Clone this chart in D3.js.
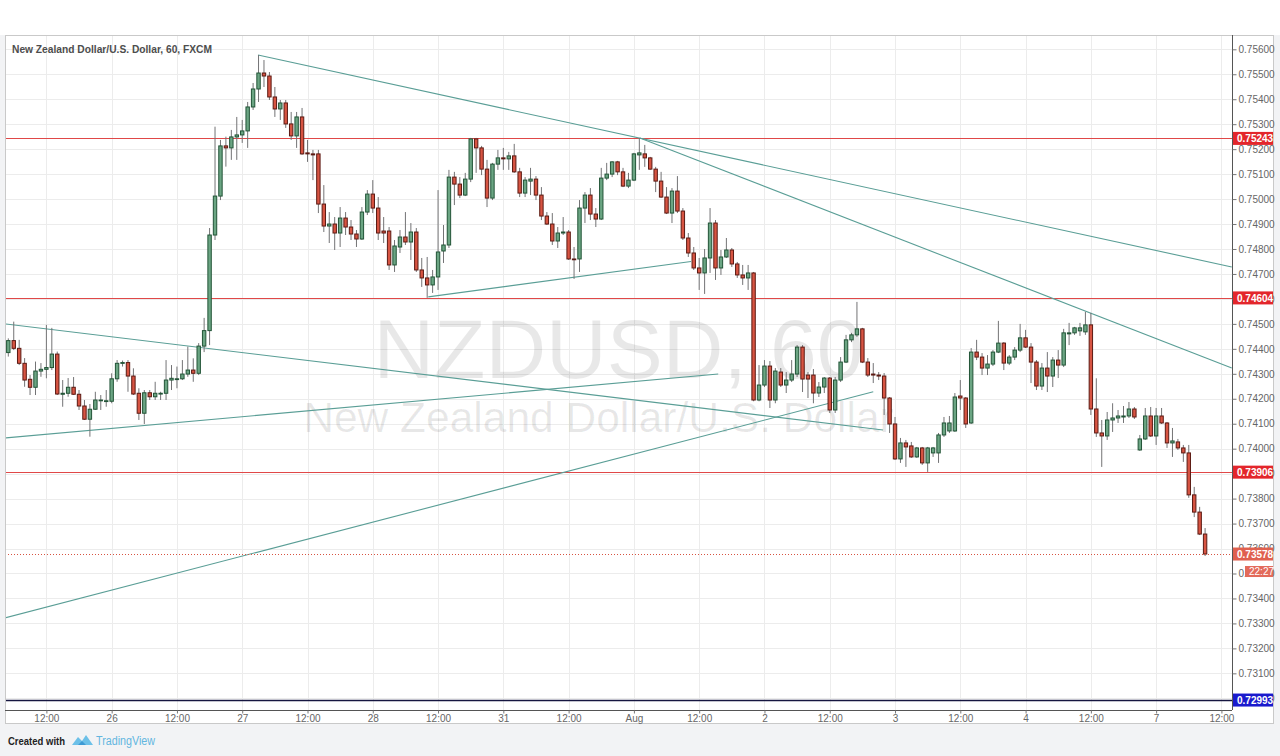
<!DOCTYPE html>
<html><head><meta charset="utf-8">
<script src="https://cdn.jsdelivr.net/npm/d3@7"></script>
<style>
html,body{margin:0;padding:0;background:#ffffff;}
svg{display:block;font-family:"Liberation Sans",Arial,sans-serif;}
</style></head><body>
<svg id="chart" width="1280" height="756"></svg>
<script>
// ---------------- DATA (NZD/USD, 1h bars, FXCM) ----------------
const open = [0.74385,0.74433,0.74402,0.74342,0.74278,0.74246,0.74311,0.74318,0.74325,0.74379,0.74218,0.74222,0.74246,0.74218,0.74171,0.74118,0.74158,0.74192,0.74190,0.74190,
0.74280,0.74342,0.74345,0.74291,0.74222,0.74142,0.74224,0.74208,0.74219,0.74222,0.74275,0.74278,0.74280,0.74299,0.74315,0.74302,0.74411,0.74473,0.74856,0.75012,
0.75213,0.75205,0.75249,0.75257,0.75273,0.75369,0.75441,0.75505,0.75493,0.75409,0.75361,0.75385,0.75301,0.75253,0.75329,0.75185,0.75181,0.75181,0.74980,0.74892,
0.74900,0.74864,0.74924,0.74888,0.74860,0.74840,0.74948,0.75020,0.74964,0.74872,0.74872,0.74736,0.74808,0.74848,0.74828,0.74868,0.74716,0.74684,0.74656,0.74688,
0.74792,0.74816,0.75088,0.75060,0.75016,0.75080,0.75241,0.75205,0.75120,0.75004,0.75140,0.75165,0.75161,0.75173,0.75109,0.75024,0.75072,0.75080,0.75016,0.74932,
0.74900,0.74832,0.74864,0.74868,0.74760,0.74760,0.74964,0.75016,0.74940,0.74920,0.75084,0.75100,0.75149,0.75109,0.75052,0.75076,0.75177,0.75181,0.75165,0.75120,
0.75072,0.75008,0.74944,0.75032,0.74952,0.74844,0.74784,0.74724,0.74704,0.74764,0.74904,0.74724,0.74768,0.74796,0.74740,0.74696,0.74684,0.74704,0.74195,0.74255,
0.74331,0.74195,0.74307,0.74255,0.74275,0.74299,0.74407,0.74295,0.74295,0.74223,0.74247,0.74283,0.74155,0.74275,0.74347,0.74436,0.74456,0.74480,0.74347,0.74299,
0.74295,0.74291,0.74203,0.74099,0.73959,0.74023,0.74011,0.73967,0.74003,0.73943,0.73983,0.73983,0.74055,0.74071,0.74071,0.74211,0.74203,0.74103,0.74387,0.74367,
0.74323,0.74339,0.74387,0.74423,0.74343,0.74367,0.74395,0.74444,0.74407,0.74347,0.74251,0.74323,0.74291,0.74355,0.74335,0.74460,0.74464,0.74472,0.74468,0.74496,
0.74159,0.74063,0.74051,0.74115,0.74123,0.74127,0.74131,0.74159,0.73995,0.74039,0.74131,0.74051,0.74131,0.74103,0.74023,0.74027,0.74003,0.73983,0.73815,0.73746,
0.73658];
const high = [0.74442,0.74509,0.74436,0.74363,0.74295,0.74349,0.74343,0.74496,0.74484,0.74389,0.74275,0.74283,0.74287,0.74235,0.74195,0.74179,0.74228,0.74215,0.74235,0.74302,
0.74355,0.74353,0.74355,0.74322,0.74242,0.74235,0.74235,0.74268,0.74228,0.74355,0.74335,0.74329,0.74355,0.74409,0.74362,0.74423,0.74524,0.74884,0.75290,0.75237,
0.75250,0.75277,0.75329,0.75317,0.75389,0.75465,0.75577,0.75557,0.75509,0.75449,0.75397,0.75397,0.75349,0.75349,0.75365,0.75237,0.75197,0.75197,0.75056,0.74948,
0.74928,0.74968,0.74948,0.74916,0.74876,0.74968,0.75036,0.75076,0.75008,0.74928,0.74888,0.74836,0.74876,0.74948,0.74904,0.74884,0.74764,0.74768,0.74716,0.75036,
0.74896,0.75117,0.75109,0.75088,0.75105,0.75245,0.75245,0.75213,0.75157,0.75145,0.75197,0.75205,0.75189,0.75221,0.75125,0.75088,0.75125,0.75092,0.75048,0.74948,
0.74944,0.74888,0.74928,0.74876,0.74808,0.74996,0.75028,0.75044,0.74964,0.75125,0.75145,0.75152,0.75153,0.75125,0.75105,0.75185,0.75245,0.75217,0.75169,0.75129,
0.75109,0.75048,0.75044,0.75092,0.74964,0.74864,0.74808,0.74764,0.74800,0.74964,0.74916,0.74796,0.74844,0.74804,0.74748,0.74736,0.74736,0.74708,0.74335,0.74355,
0.74351,0.74323,0.74323,0.74307,0.74355,0.74415,0.74415,0.74307,0.74319,0.74267,0.74287,0.74287,0.74287,0.74367,0.74456,0.74464,0.74588,0.74484,0.74363,0.74343,
0.74307,0.74303,0.74207,0.74127,0.74043,0.74035,0.74027,0.74007,0.74007,0.74007,0.74007,0.74063,0.74127,0.74131,0.74223,0.74275,0.74207,0.74403,0.74436,0.74383,
0.74375,0.74395,0.74512,0.74427,0.74375,0.74407,0.74500,0.74476,0.74423,0.74355,0.74343,0.74387,0.74367,0.74395,0.74480,0.74504,0.74488,0.74504,0.74548,0.74544,
0.74282,0.74115,0.74147,0.74182,0.74155,0.74171,0.74187,0.74167,0.74055,0.74163,0.74167,0.74163,0.74163,0.74107,0.74083,0.74039,0.74015,0.74015,0.73847,0.73767,
0.73682];
const low = [0.74369,0.74395,0.74335,0.74248,0.74215,0.74215,0.74288,0.74282,0.74315,0.74215,0.74168,0.74208,0.74215,0.74155,0.74115,0.74048,0.74155,0.74155,0.74168,0.74182,
0.74268,0.74329,0.74228,0.74215,0.74115,0.74099,0.74195,0.74195,0.74195,0.74195,0.74235,0.74242,0.74275,0.74288,0.74268,0.74295,0.74387,0.74415,0.74836,0.74996,
0.75130,0.75157,0.75157,0.75225,0.75205,0.75357,0.75389,0.75449,0.75397,0.75329,0.75317,0.75285,0.75237,0.75205,0.75177,0.75149,0.75076,0.74944,0.74868,0.74824,
0.74796,0.74808,0.74856,0.74836,0.74808,0.74836,0.74936,0.74944,0.74836,0.74824,0.74716,0.74708,0.74784,0.74816,0.74756,0.74708,0.74648,0.74604,0.74624,0.74636,
0.74744,0.74804,0.74976,0.75004,0.75012,0.75068,0.75105,0.75096,0.74968,0.74996,0.75117,0.75117,0.75117,0.75105,0.75008,0.75008,0.75016,0.74996,0.74916,0.74896,
0.74816,0.74804,0.74856,0.74756,0.74680,0.74708,0.74904,0.74916,0.74888,0.74916,0.75076,0.75088,0.75096,0.75048,0.75044,0.75072,0.75117,0.75129,0.75117,0.75028,
0.75004,0.74940,0.74904,0.74944,0.74836,0.74768,0.74716,0.74636,0.74620,0.74704,0.74676,0.74696,0.74764,0.74728,0.74684,0.74656,0.74636,0.74190,0.74190,0.74247,
0.74163,0.74182,0.74247,0.74223,0.74267,0.74287,0.74227,0.74203,0.74182,0.74207,0.74223,0.74143,0.74143,0.74267,0.74343,0.74427,0.74448,0.74343,0.74287,0.74263,
0.74275,0.74135,0.74063,0.73955,0.73943,0.73927,0.73963,0.73963,0.73935,0.73907,0.73967,0.73943,0.74047,0.74063,0.74067,0.74155,0.74083,0.74099,0.74355,0.74295,
0.74295,0.74331,0.74383,0.74315,0.74335,0.74355,0.74387,0.74403,0.74263,0.74235,0.74235,0.74227,0.74247,0.74283,0.74327,0.74415,0.74456,0.74452,0.74456,0.74135,
0.74047,0.73927,0.74035,0.74067,0.74103,0.74103,0.74123,0.74119,0.73991,0.74035,0.74047,0.74015,0.74099,0.74003,0.73967,0.73995,0.73947,0.73803,0.73726,0.73654,
0.73570];
const close = [0.74433,0.74402,0.74342,0.74275,0.74246,0.74311,0.74318,0.74325,0.74379,0.74219,0.74222,0.74246,0.74218,0.74171,0.74118,0.74158,0.74195,0.74195,0.74192,0.74280,
0.74342,0.74345,0.74291,0.74219,0.74142,0.74224,0.74208,0.74222,0.74222,0.74275,0.74282,0.74280,0.74299,0.74315,0.74302,0.74411,0.74473,0.74856,0.75012,0.75213,
0.75205,0.75249,0.75257,0.75273,0.75369,0.75441,0.75505,0.75493,0.75409,0.75361,0.75385,0.75301,0.75253,0.75329,0.75181,0.75181,0.75177,0.74980,0.74892,0.74900,
0.74864,0.74924,0.74888,0.74860,0.74840,0.74948,0.75020,0.74964,0.74864,0.74864,0.74736,0.74812,0.74848,0.74828,0.74868,0.74716,0.74684,0.74656,0.74688,0.74788,
0.74816,0.75088,0.75060,0.75016,0.75080,0.75241,0.75205,0.75120,0.75004,0.75140,0.75165,0.75161,0.75173,0.75109,0.75024,0.75076,0.75080,0.75016,0.74932,0.74900,
0.74832,0.74864,0.74868,0.74760,0.74758,0.74964,0.75016,0.74940,0.74920,0.75084,0.75100,0.75149,0.75109,0.75052,0.75076,0.75181,0.75185,0.75165,0.75120,0.75072,
0.75008,0.74944,0.75032,0.74952,0.74844,0.74784,0.74724,0.74704,0.74764,0.74904,0.74724,0.74768,0.74796,0.74740,0.74696,0.74684,0.74704,0.74195,0.74255,0.74331,
0.74195,0.74311,0.74255,0.74275,0.74299,0.74407,0.74279,0.74279,0.74223,0.74247,0.74283,0.74155,0.74275,0.74347,0.74436,0.74456,0.74480,0.74347,0.74295,0.74295,
0.74291,0.74203,0.74099,0.73959,0.74023,0.74007,0.73967,0.74003,0.73943,0.74003,0.74003,0.74055,0.74103,0.74103,0.74207,0.74203,0.74099,0.74387,0.74367,0.74323,
0.74339,0.74387,0.74423,0.74343,0.74367,0.74395,0.74444,0.74407,0.74347,0.74251,0.74323,0.74291,0.74355,0.74335,0.74464,0.74464,0.74484,0.74484,0.74496,0.74159,
0.74063,0.74051,0.74115,0.74123,0.74131,0.74131,0.74159,0.74127,0.74039,0.74131,0.74051,0.74131,0.74103,0.74023,0.74031,0.74003,0.73983,0.73815,0.73746,0.73658,
0.73578];

// time axis: bar index of each label, and its text
const timeTickIndex = [7,19,31,43,55,67,79,91,103,115,127,139,151,163,175,187,199,211,223];
const timeTickLabel = ["12:00","26","12:00","27","12:00","28","12:00","31","12:00","Aug","12:00","2","12:00","3","12:00","4","12:00","7","12:00"];
// price axis ticks
const priceTicks = [0.730,0.731,0.732,0.733,0.734,0.735,0.736,0.737,0.738,0.739,0.740,0.741,0.742,0.743,0.744,0.745,0.746,0.747,0.748,0.749,0.750,0.751,0.752,0.753,0.754,0.755,0.756];

// horizontal levels drawn on the chart
const resistanceLevels = [0.75243, 0.74604, 0.73906];
const supportLevel = 0.72993;
const lastPrice = 0.73578;
const countdown = "22:27";

// trend lines: [[barIndex, price], [barIndex, price]]
const trendLines = [
  [[45.9, 0.75577], [224.9, 0.74728]],
  [[116.1, 0.75245], [224.9, 0.74323]],
  [[-0.6, 0.74500], [160.8, 0.74075]],
  [[-0.6, 0.74043], [130.5, 0.74299]],
  [[-0.6, 0.73322], [159.0, 0.74228]],
  [[77.2, 0.74608], [125.5, 0.74750]]
];

const title = "New Zealand Dollar/U.S. Dollar, 60, FXCM";
const watermark1 = "NZDUSD, 60";
const watermark2 = "New Zealand Dollar/U.S. Dollar";

// ---------------- DRAWING ----------------
const svg = d3.select("#chart");
const P = {l:5, t:35, r:1232, b:710};
const frameR = 1274, frameB = 724;

// page background
svg.append("rect").attr("x",0).attr("y",0).attr("width",1280).attr("height",756).attr("fill","#f2f3f5");
svg.append("rect").attr("x",0).attr("y",0).attr("width",1280).attr("height",P.t).attr("fill","#ffffff");
svg.append("rect").attr("x",P.l+0.5).attr("y",P.t+0.5).attr("width",frameR-P.l-1).attr("height",frameB-P.t-1)
   .attr("fill","#ffffff").attr("stroke","#c9c9c9");

const x = d3.scaleLinear().domain([0,220]).range([8.3, 8.3+220*5.44]);
const y = d3.scaleLinear().domain([0.730,0.756]).range([698.3,49.3]);

svg.append("clipPath").attr("id","plotclip").append("rect")
  .attr("x",P.l+1).attr("y",P.t+1).attr("width",P.r-P.l-1).attr("height",P.b-P.t-1);

const plot = svg.append("g").attr("clip-path","url(#plotclip)");

// grid
plot.append("g").selectAll("line").data(priceTicks).join("line")
  .attr("x1",P.l).attr("x2",P.r).attr("y1",d=>Math.round(y(d))+0.5).attr("y2",d=>Math.round(y(d))+0.5)
  .attr("stroke","#ececec");
plot.append("g").selectAll("line").data(timeTickIndex).join("line")
  .attr("y1",P.t).attr("y2",P.b).attr("x1",d=>Math.round(x(d))+0.5).attr("x2",d=>Math.round(x(d))+0.5)
  .attr("stroke","#ececec");

// watermark
const cxPlot = (P.l+P.r)/2;
plot.append("text").attr("x",cxPlot).attr("y",378).attr("text-anchor","middle")
  .attr("font-size",84).attr("fill","#000").attr("fill-opacity",0.09).text(watermark1);
plot.append("text").attr("x",cxPlot-20).attr("y",432).attr("text-anchor","middle")
  .attr("font-size",42.5).attr("fill","#000").attr("fill-opacity",0.09).text(watermark2);

// horizontal levels
plot.append("g").selectAll("line").data(resistanceLevels).join("line")
  .attr("x1",P.l).attr("x2",P.r).attr("y1",d=>Math.round(y(d))+0.5).attr("y2",d=>Math.round(y(d))+0.5)
  .attr("stroke","#e04848").attr("stroke-width",1);
plot.append("line").attr("x1",P.l).attr("x2",P.r)
  .attr("y1",Math.round(y(supportLevel))+0.5).attr("y2",Math.round(y(supportLevel))+0.5)
  .attr("stroke","#161640").attr("stroke-width",1.4);

// trend lines
plot.append("g").selectAll("line").data(trendLines).join("line")
  .attr("x1",d=>x(d[0][0])).attr("y1",d=>y(d[0][1]))
  .attr("x2",d=>x(d[1][0])).attr("y2",d=>y(d[1][1]))
  .attr("stroke","#5a9e96").attr("stroke-width",1.1);

// candles
const bars = d3.range(open.length).map(i=>({i,o:open[i],h:high[i],l:low[i],c:close[i]}));
const cg = plot.append("g");
cg.selectAll("line.wick").data(bars).join("line").attr("class","wick")
  .attr("x1",d=>x(d.i)).attr("x2",d=>x(d.i))
  .attr("y1",d=>y(d.h)).attr("y2",d=>y(d.l))
  .attr("stroke","#737375").attr("stroke-width",1);
cg.selectAll("rect.body").data(bars).join("rect").attr("class","body")
  .attr("x",d=>x(d.i)-1.7).attr("width",3.4)
  .attr("y",d=>y(Math.max(d.o,d.c)))
  .attr("height",d=>Math.max(0.8, Math.abs(y(d.o)-y(d.c))))
  .attr("fill",d=>d.c>=d.o?"#6ba583":"#d75442")
  .attr("stroke",d=>d.c>=d.o?"#225437":"#5b1a13").attr("stroke-width",1);

// last price dotted line
plot.append("line").attr("x1",P.l).attr("x2",P.r)
  .attr("y1",Math.round(y(lastPrice))+0.5).attr("y2",Math.round(y(lastPrice))+0.5)
  .attr("stroke","#d75442").attr("stroke-dasharray","1,2");

// title
svg.append("text").attr("x",12).attr("y",53).attr("font-size",11).attr("font-weight","bold")
  .attr("fill","#4d4d4d").attr("textLength",200).attr("lengthAdjust","spacingAndGlyphs").text(title);

// axes borders
svg.append("line").attr("x1",P.r+0.5).attr("x2",P.r+0.5).attr("y1",P.t).attr("y2",P.b).attr("stroke","#555");
svg.append("line").attr("x1",P.l).attr("x2",P.r).attr("y1",P.b+0.5).attr("y2",P.b+0.5).attr("stroke","#555");

// price axis
const ya = svg.append("g").attr("transform",`translate(${P.r+0.5},0)`)
  .call(d3.axisRight(y).tickValues(priceTicks).tickSize(4).tickPadding(2).tickFormat(d3.format(".5f")));
ya.select(".domain").remove();
ya.selectAll("line").attr("stroke","#777");
ya.selectAll("text").attr("fill","#666").attr("font-size",10).attr("font-family","Liberation Sans, Arial, sans-serif");

// time axis
const xa = svg.append("g").attr("transform",`translate(0,${P.b+0.5})`)
  .call(d3.axisBottom(x).tickValues(timeTickIndex).tickSize(3).tickPadding(1).tickFormat((d,i)=>timeTickLabel[i]));
xa.select(".domain").remove();
xa.selectAll("line").attr("stroke","#777");
xa.selectAll("text").attr("fill","#666").attr("font-size",10).attr("font-family","Liberation Sans, Arial, sans-serif");

// price labels on the axis
function priceTag(p, color){
  const yy = y(p);
  const g = svg.append("g");
  g.append("rect").attr("x",P.r+1).attr("y",yy-6.5).attr("width",frameR-P.r-2).attr("height",13).attr("fill",color);
  g.append("text").attr("x",P.r+5).attr("y",yy+3.6).attr("font-size",10).attr("font-weight","bold")
    .attr("fill","#fff").text(d3.format(".5f")(p));
}
resistanceLevels.forEach(p=>priceTag(p,"#e3262b"));
priceTag(supportLevel,"#1a1acd");
priceTag(lastPrice,"#e0604f");
svg.append("rect").attr("x",1245).attr("y",y(lastPrice)+12).attr("width",frameR-1246).attr("height",11).attr("fill","#e36a5a");
svg.append("text").attr("x",1249).attr("y",y(lastPrice)+21).attr("font-size",10).attr("fill","#fff").text(countdown);

// footer
svg.append("text").attr("x",8).attr("y",745).attr("font-size",11).attr("font-weight","bold")
  .attr("fill","#222").attr("textLength",57).attr("lengthAdjust","spacingAndGlyphs").text("Created with");
const logo = svg.append("g").attr("transform","translate(72,734)");
logo.append("path").attr("d","M0,11 L6,3 L10,7 L14,1 L21,11 Z").attr("fill","#6cc0e8");
logo.append("path").attr("d","M6,11 L10,7 L14,11 Z").attr("fill","#3d9ad4");
svg.append("text").attr("x",96).attr("y",745).attr("font-size",12)
  .attr("fill","#62b6e0").attr("textLength",59).attr("lengthAdjust","spacingAndGlyphs").text("TradingView");
</script>
</body></html>
